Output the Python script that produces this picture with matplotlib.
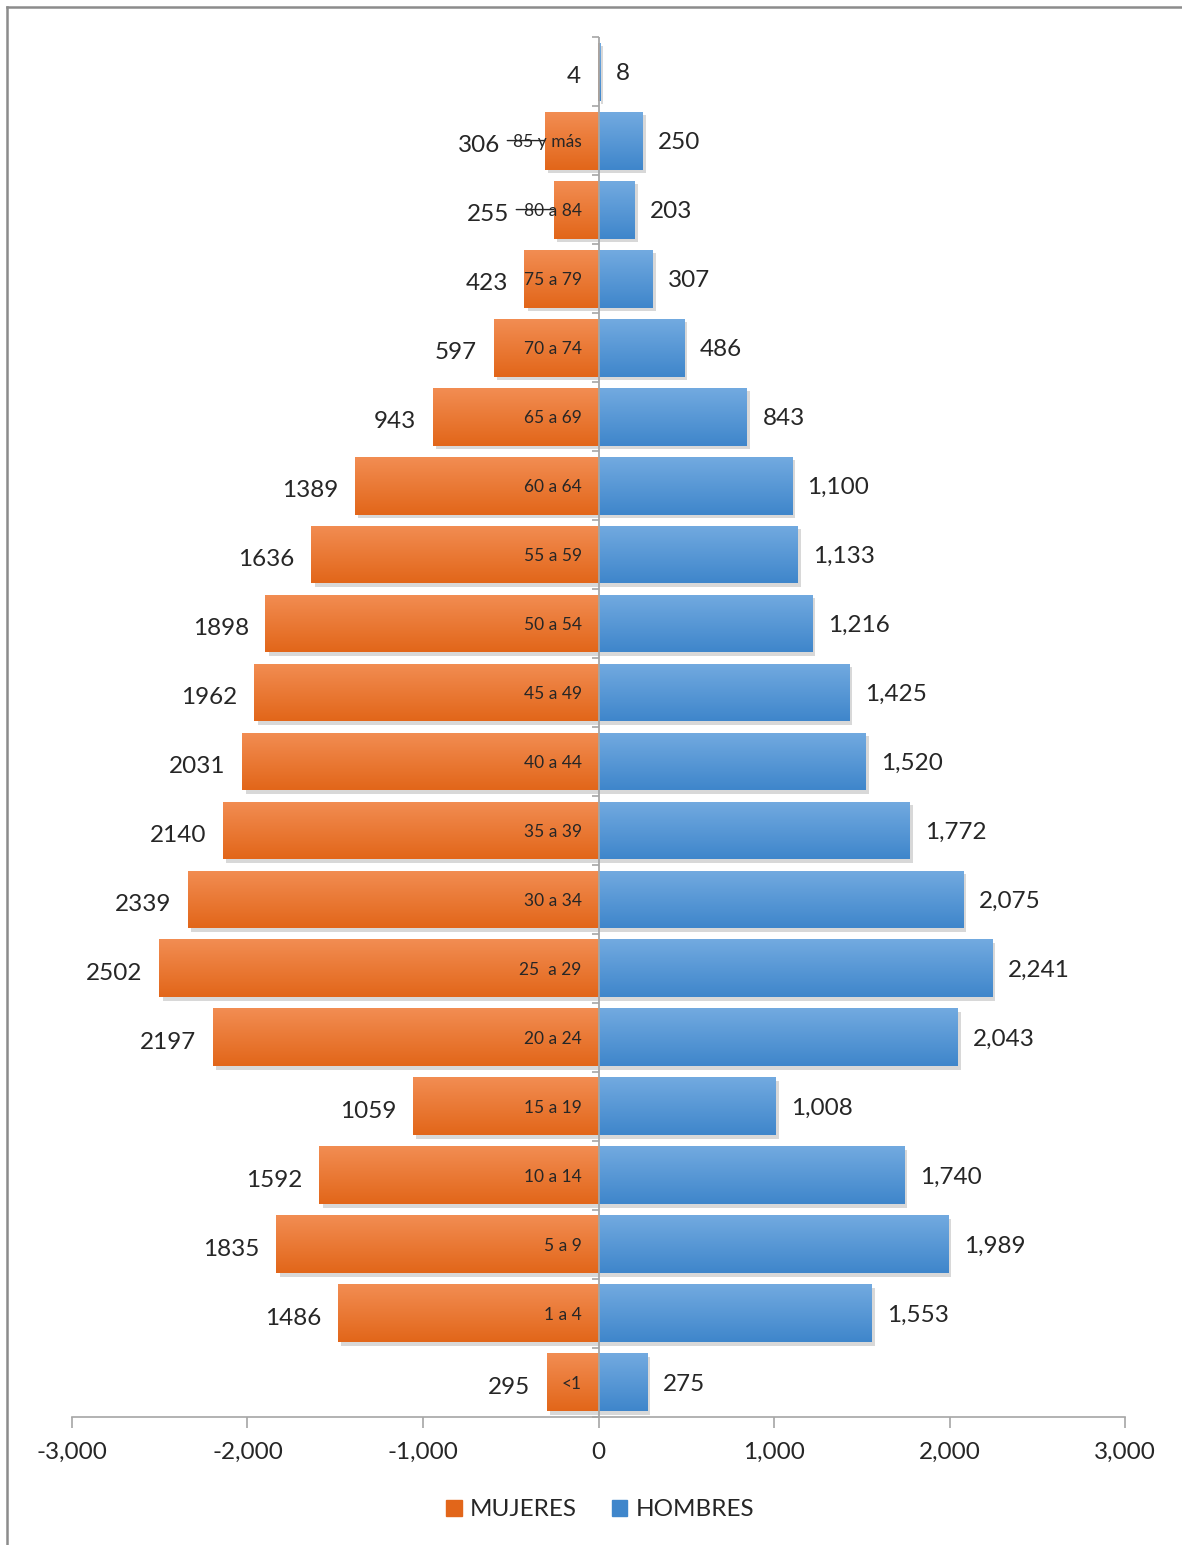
import numpy as np
import matplotlib
matplotlib.use("Agg")
import matplotlib.pyplot as plt
import matplotlib.patheffects as pe
from matplotlib.colors import LinearSegmentedColormap
from matplotlib.patches import Patch
from matplotlib.ticker import FuncFormatter, FixedLocator

plt.rcParams['font.family'] = ['Lato', 'DejaVu Sans']

# age groups, bottom to top
grupos = ['<1', '1 a 4', '5 a 9', '10 a 14', '15 a 19', '20 a 24', '25  a 29',
          '30 a 34', '35 a 39', '40 a 44', '45 a 49', '50 a 54', '55 a 59',
          '60 a 64', '65 a 69', '70 a 74', '75 a 79', '80 a 84', '85 y más', '']
mujeres = [295, 1486, 1835, 1592, 1059, 2197, 2502, 2339, 2140, 2031,
           1962, 1898, 1636, 1389, 943, 597, 423, 255, 306, 4]
hombres = [275, 1553, 1989, 1740, 1008, 2043, 2241, 2075, 1772, 1520,
           1425, 1216, 1133, 1100, 843, 486, 307, 203, 250, 8]

naranja = ['#f28d52', '#e2661a']
azul = ['#72aae0', '#3f86cb']
texto = '#262626'

fig = plt.figure(figsize=(11.82, 15.45), dpi=100)
ax = fig.add_axes([0.0609, 0.0829, 0.8909, 0.8931])

y = np.arange(len(grupos))
alto = 0.84
sombra = [pe.SimplePatchShadow(offset=(2.5, -2.5), shadow_rgbFace='#808080', alpha=0.3), pe.Normal()]

bars_m = ax.barh(y, [-v for v in mujeres], height=alto, color=naranja[1], linewidth=0, path_effects=sombra, zorder=2)
bars_h = ax.barh(y, hombres, height=alto, color=azul[1], linewidth=0, path_effects=sombra, zorder=2)

# vertical gradient on every bar
grad = np.linspace(0, 1, 64).reshape(-1, 1)
for bars, cols in ((bars_m, naranja), (bars_h, azul)):
    cmap = LinearSegmentedColormap.from_list('g', cols)
    for b in bars:
        x0, y0 = b.get_x(), b.get_y()
        w, h = b.get_width(), b.get_height()
        if abs(w) < 1e-9:
            continue
        im = ax.imshow(grad, cmap=cmap, aspect='auto', origin='upper',
                       extent=[min(x0, x0 + w), max(x0, x0 + w), y0, y0 + h], zorder=3)
        im.set_clip_path(b)

# data labels (two of them pushed aside with a leader line)
desplazados = {18: 20, 17: 20}
for i, v in enumerate(mujeres):
    extra = desplazados.get(i, 0)
    ax.annotate(str(v), xy=(-v, i), xytext=(-12 - extra, -3.5), textcoords='offset points',
                ha='right', va='center', fontsize=17.5, color=texto, zorder=5)
    if extra:
        ax.annotate('', xy=(-v, i), xytext=(-7 - extra, 0), textcoords='offset points',
                    arrowprops=dict(arrowstyle='-', color=texto, lw=1.0,
                                    shrinkA=0, shrinkB=0), zorder=5)
for i, v in enumerate(hombres):
    ax.annotate(f'{v:,}', xy=(v, i), xytext=(11.5, -1.5), textcoords='offset points',
                ha='left', va='center', fontsize=17.5, color=texto, zorder=5)

# age group names sit just left of the zero line
for i, g in enumerate(grupos):
    ax.annotate(g, xy=(0, i), xytext=(-12, -1), textcoords='offset points',
                ha='right', va='center', fontsize=12.5, color=texto, zorder=6)

ax.set_xlim(-3000, 3000)
ax.set_ylim(-0.5, len(grupos) - 0.5)

for s in ['top', 'right', 'left']:
    ax.spines[s].set_visible(False)
ax.spines['bottom'].set_color('#a6a6a6')
ax.spines['bottom'].set_linewidth(1.2)
ax.axvline(0, color='#a6a6a6', lw=1.3, zorder=4)

ax.set_xticks(np.arange(-3000, 3001, 1000))
ax.xaxis.set_major_formatter(FuncFormatter(lambda v, p: f'{int(v):,}'))
ax.tick_params(axis='x', length=8, color='#a6a6a6', width=1.2, labelsize=17.5, pad=10, labelcolor=texto)

ax.set_yticks([])
ax.yaxis.set_minor_locator(FixedLocator(np.arange(-0.5, len(grupos), 1.0)))
ax.tick_params(axis='y', which='minor', length=5, color='#a6a6a6', width=1.2)

# y axis is drawn at zero, move the minor ticks there too
for t in ax.yaxis.get_minor_ticks():
    t.tick1line.set_xdata([0.5])

fig.legend(handles=[Patch(color=naranja[1], label='MUJERES'), Patch(color=azul[1], label='HOMBRES')],
           loc='center', bbox_to_anchor=(0.508, 0.0227), ncol=2, frameon=False, fontsize=17.5,
           handlelength=0.62, handleheight=0.62, handletextpad=0.35, columnspacing=1.45,
           labelcolor=texto)

# outer chart frame
fig.add_artist(plt.Line2D([0.0055, 0.0055], [0, 0.9955], color='#8c8c8c', lw=1.8, transform=fig.transFigure))
fig.add_artist(plt.Line2D([0.0055, 1], [0.9955, 0.9955], color='#8c8c8c', lw=1.8, transform=fig.transFigure))

fig.savefig('out.png', dpi=100, facecolor='white')
